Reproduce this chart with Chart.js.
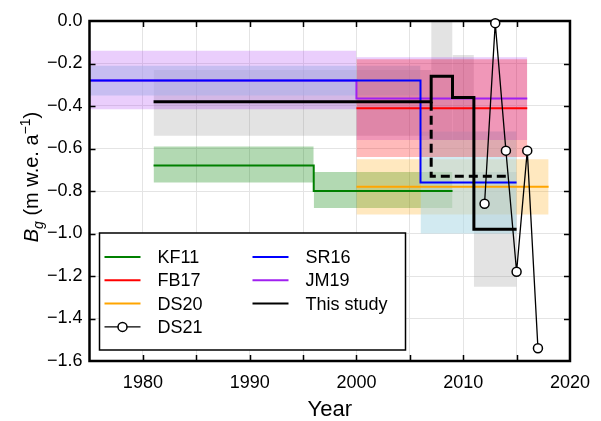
<!DOCTYPE html>
<html>
<head>
<meta charset="utf-8">
<script src="https://cdn.jsdelivr.net/npm/chart.js@4.4.1/dist/chart.umd.min.js"></script>
<style>
  html, body { margin: 0; padding: 0; background: #fff; }
</style>
</head>
<body>
<canvas id="chart" width="601" height="421"></canvas>
<script>
const FONT = '"Liberation Sans", Arial, sans-serif';

// x axis ticks (every 5 years, labels every 10)
const xMin = 1975, xMax = 2020, xStep = 5;
const yMin = -1.6, yMax = 0.0, yStep = 0.2;

// step series: segment boundaries (years), value per segment, band low/high per segment
const kf11Years = [1981, 1996, 2009];
const kf11Values = [-0.68, -0.80];
const kf11Low = [-0.76, -0.88];
const kf11High = [-0.59, -0.71];

const fb17Years = [2000, 2016];
const fb17Values = [-0.41];
const fb17Low = [-0.64];
const fb17High = [-0.18];

const ds20Years = [2000, 2018];
const ds20Values = [-0.78];
const ds20Low = [-0.91];
const ds20High = [-0.65];

const sr16Years = [1975, 2006, 2015];
const sr16Values = [-0.28, -0.76];
const sr16Low = [-0.35, -1.00];
const sr16High = [-0.21, -0.52];

const jm19Years = [1975, 2000, 2016];
const jm19Values = [-0.28, -0.365];
const jm19Low = [-0.415, -0.56];
const jm19High = [-0.14, -0.17];

const studyYears = [1981, 2007, 2009, 2011, 2015];
const studyValues = [-0.38, -0.26, -0.36, -0.98];
const studyLow = [-0.54, -0.56, -0.56, -1.25];
const studyHigh = [-0.23, 0.04, -0.16, -0.71];

// alternative (dashed) branch of this study
const studyAltYears = [2007, 2007, 2014];
const studyAltValues = [-0.38, -0.73, -0.73];

// DS21 annual points
const ds21Years = [2012, 2013, 2014, 2015, 2016, 2017];
const ds21Values = [-0.86, -0.01, -0.61, -1.18, -0.61, -1.54];

const colors = {
  KF11: 'rgb(0,128,0)',
  FB17: 'rgb(255,0,0)',
  DS20: 'rgb(255,165,0)',
  DS21: 'black',
  SR16: 'rgb(0,0,255)',
  JM19: 'rgb(160,32,240)',
  'This study': 'black'
};
const bandColors = {
  KF11: 'rgba(0,128,0,0.3)',
  FB17: 'rgba(255,0,0,0.27)',
  DS20: 'rgba(255,165,0,0.25)',
  SR16: 'rgba(173,216,230,0.55)',
  JM19: 'rgba(160,32,240,0.22)',
  'This study': 'rgba(128,128,128,0.22)'
};
// legend layout: column-major, 4 rows
const legendCol1 = ['KF11', 'FB17', 'DS20', 'DS21'];
const legendCol2 = ['SR16', 'JM19', 'This study'];

function bandSets(name, years, low, high) {
  const out = [];
  for (let i = 0; i < low.length; i++) {
    out.push({
      label: name + ' band',
      data: [{x: years[i], y: high[i]}, {x: years[i + 1], y: high[i]}],
      fill: {value: low[i]},
      backgroundColor: bandColors[name],
      borderWidth: 0,
      pointRadius: 0,
      clip: false,
      order: 10
    });
  }
  return out;
}

function stepSet(name, years, values, width, order) {
  const pts = values.map((v, i) => ({x: years[i], y: v}));
  pts.push({x: years[years.length - 1], y: values[values.length - 1]});
  return {
    label: name,
    data: pts,
    stepped: 'before',
    borderColor: colors[name],
    borderWidth: width,
    pointRadius: 0,
    fill: false,
    order: order
  };
}

// earlier entries are drawn on top
const datasets = [].concat(
  bandSets('FB17', fb17Years, fb17Low, fb17High),
  bandSets('JM19', jm19Years, jm19Low, jm19High),
  bandSets('SR16', sr16Years, sr16Low, sr16High),
  bandSets('This study', studyYears, studyLow, studyHigh),
  bandSets('DS20', ds20Years, ds20Low, ds20High),
  bandSets('KF11', kf11Years, kf11Low, kf11High),
  [
    stepSet('KF11', kf11Years, kf11Values, 2, 5),
    stepSet('DS20', ds20Years, ds20Values, 2, 4),
    stepSet('JM19', jm19Years, jm19Values, 2, 4),
    stepSet('FB17', fb17Years, fb17Values, 2, 4),
    stepSet('SR16', sr16Years, sr16Values, 2, 3),
    stepSet('This study', studyYears, studyValues, 3, 2),
    {
      label: 'This study alt',
      data: studyAltYears.map((x, i) => ({x: x, y: studyAltValues[i]})),
      borderColor: 'black',
      borderWidth: 3,
      borderDash: [9, 5],
      pointRadius: 0,
      fill: false,
      order: 2
    },
    {
      label: 'DS21',
      data: ds21Years.map((x, i) => ({x: x, y: ds21Values[i]})),
      borderColor: 'black',
      borderWidth: 1.3,
      pointRadius: 4.5,
      pointBorderWidth: 1.5,
      pointBackgroundColor: 'white',
      pointBorderColor: 'black',
      fill: false,
      clip: false,
      order: 0
    }
  ]
);

// frame with inward ticks, drawn just before the DS21 points
const framePlugin = {
  id: 'frame',
  beforeDatasetDraw(chart, args) {
    if (chart.data.datasets[args.index].label !== 'DS21') return;
    const {ctx, chartArea: a, scales: {x, y}} = chart;
    ctx.save();
    ctx.strokeStyle = 'black';
    ctx.lineWidth = 1.5;
    ctx.beginPath();
    for (let v = xMin + xStep; v < xMax; v += xStep) {
      const px = Math.round(x.getPixelForValue(v)) + 0.5;
      ctx.moveTo(px, a.bottom); ctx.lineTo(px, a.bottom - 6);
      ctx.moveTo(px, a.top); ctx.lineTo(px, a.top + 6);
    }
    for (let v = yMin + yStep; v < yMax - 1e-6; v += yStep) {
      const py = Math.round(y.getPixelForValue(v)) + 0.5;
      ctx.moveTo(a.left, py); ctx.lineTo(a.left + 6, py);
      ctx.moveTo(a.right, py); ctx.lineTo(a.right - 6, py);
    }
    ctx.stroke();
    ctx.lineWidth = 2.5;
    ctx.strokeRect(a.left, a.top, a.right - a.left, a.bottom - a.top);
    ctx.restore();
  },
  afterDraw(chart) {
    const {ctx, chartArea: a} = chart;
    // y axis title
    ctx.save();
    const cx = 38, cy = 177;
    const parts = [
      {t: 'B', f: 'italic 20px ' + FONT, dy: 0},
      {t: 'g', f: 'italic 14px ' + FONT, dy: 5},
      {t: ' (m w.e. a', f: '20px ' + FONT, dy: 0},
      {t: '\u22121', f: '14px ' + FONT, dy: -8},
      {t: ')', f: '20px ' + FONT, dy: 0}
    ];
    let total = 0;
    parts.forEach(p => { ctx.font = p.f; p.w = ctx.measureText(p.t).width; total += p.w; });
    ctx.translate(cx, cy);
    ctx.rotate(-Math.PI / 2);
    ctx.fillStyle = 'black';
    ctx.textBaseline = 'alphabetic';
    let px = -total / 2;
    parts.forEach(p => { ctx.font = p.f; ctx.fillText(p.t, px, p.dy); px += p.w; });
    ctx.restore();

    // legend
    ctx.save();
    const bx = a.left + 10, by = a.bottom - 11 - 117, bw = 306, bh = 117;
    ctx.fillStyle = 'white';
    ctx.fillRect(bx, by, bw, bh);
    ctx.strokeStyle = 'black';
    ctx.lineWidth = 1.5;
    ctx.strokeRect(bx, by, bw, bh);
    ctx.font = '18px ' + FONT;
    ctx.textBaseline = 'middle';
    [legendCol1, legendCol2].forEach((col, c) => {
      col.forEach((name, r) => {
        const lx = bx + 5 + c * 148;
        const ly = by + 24 + r * 23.3;
        ctx.strokeStyle = colors[name];
        ctx.lineWidth = name === 'DS21' ? 1.3 : 2;
        ctx.beginPath();
        ctx.moveTo(lx, ly); ctx.lineTo(lx + 36, ly);
        ctx.stroke();
        if (name === 'DS21') {
          ctx.beginPath();
          ctx.arc(lx + 18, ly, 4.5, 0, Math.PI * 2);
          ctx.fillStyle = 'white';
          ctx.fill();
          ctx.lineWidth = 1.5;
          ctx.stroke();
        }
        ctx.fillStyle = 'black';
        ctx.fillText(name, lx + 53, ly + 1);
      });
    });
    ctx.restore();
  }
};

new Chart(document.getElementById('chart'), {
  type: 'line',
  data: {datasets: datasets},
  options: {
    responsive: false,
    animation: false,
    layout: {padding: {top: 21, right: 23, left: 0, bottom: 0}},
    plugins: {legend: {display: false}, tooltip: {enabled: false}},
    scales: {
      x: {
        type: 'linear',
        min: xMin,
        max: xMax,
        afterFit(scale) { scale.height = 60; },
        grid: {color: '#e4e4e4', lineWidth: 1, drawTicks: false},
        border: {display: false},
        ticks: {
          stepSize: xStep,
          autoSkip: false,
          maxRotation: 0,
          padding: 11,
          color: 'black',
          font: {family: FONT, size: 18},
          callback: v => (v % 10 === 0 ? String(v) : '')
        },
        title: {display: true, text: 'Year', color: 'black', padding: 0,
                font: {family: FONT, size: 22, lineHeight: 1}}
      },
      y: {
        type: 'linear',
        min: yMin,
        max: yMax,
        afterFit(scale) { scale.width = 89.5; },
        grid: {color: '#e4e4e4', lineWidth: 1, drawTicks: false},
        border: {display: false},
        ticks: {
          stepSize: yStep,
          padding: 7,
          color: 'black',
          font: {family: FONT, size: 18},
          callback: v => v.toFixed(1).replace('-', '\u2212')
        }
      }
    }
  },
  plugins: [framePlugin]
});
</script>
</body>
</html>
